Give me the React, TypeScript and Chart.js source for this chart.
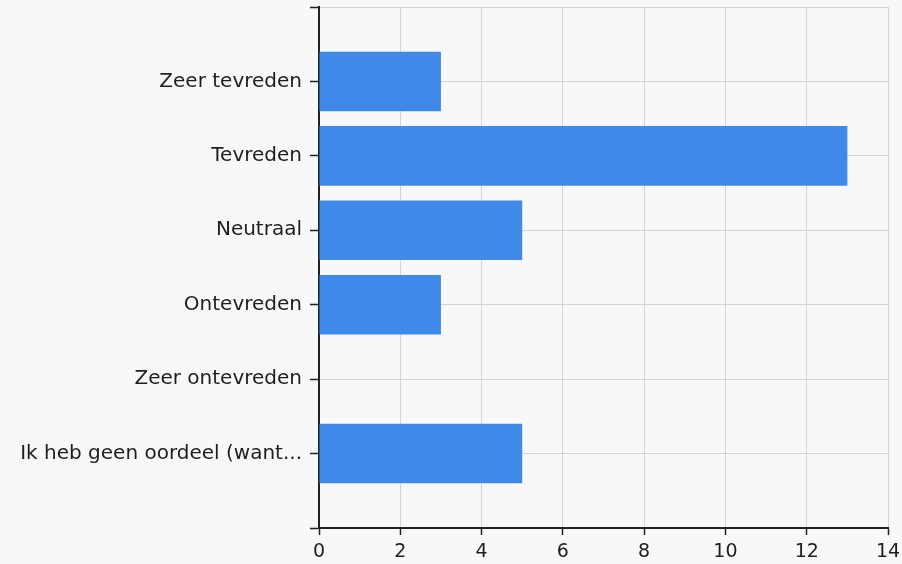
import React, { useEffect, useRef } from "react";
import { Chart, registerables } from "chart.js";

Chart.register(...registerables);

const categories = [
  "Zeer tevreden",
  "Tevreden",
  "Neutraal",
  "Ontevreden",
  "Zeer ontevreden",
  "Ik heb geen oordeel (want...",
];
const values = [3, 13, 5, 3, 0, 5];
const xTicks = [0, 2, 4, 6, 8, 10, 12, 14];

export default function App() {
  const ref = useRef<HTMLCanvasElement>(null);
  useEffect(() => {
    document.body.style.margin = "0";
    document.body.style.background = "#f8f8f8";
    const labels = ["", ...categories, ""];
    const data = [null, ...values, null];
    const chart = new Chart(ref.current!, {
      type: "bar",
      data: {
        labels,
        datasets: [
          {
            data,
            backgroundColor: "#3f8ae9",
            barPercentage: 0.8,
            categoryPercentage: 1,
          },
        ],
      },
      options: {
        indexAxis: "y",
        animation: false,
        responsive: false,
        layout: { padding: { top: 7, right: 14, left: 0, bottom: 0 } },
        plugins: { legend: { display: false }, tooltip: { enabled: false } },
        scales: {
          x: {
            min: 0,
            max: 14,
            afterBuildTicks: (s: any) => {
              s.ticks = xTicks.map((v) => ({ value: v }));
            },
            afterFit: (s: any) => {
              s.height = 36;
              s.paddingLeft = 0;
              s.paddingRight = 0;
            },
            grid: { color: "#d4d4d4", tickColor: "#222", tickLength: 7, tickWidth: 1.5, lineWidth: 1 },
            border: { color: "#222", width: 2 },
            ticks: { color: "#1e1e1e", font: { family: "DejaVu Sans", size: 19 }, padding: 6, maxRotation: 0 },
          },
          y: {
            offset: false,
            afterFit: (s: any) => {
              s.width = 319;
              s.paddingTop = 0;
              s.paddingBottom = 0;
            },
            grid: { offset: false, color: "#d4d4d4", tickColor: "#222", tickLength: 9, tickWidth: 1.5, lineWidth: 1 },
            border: { color: "#222", width: 2 },
            ticks: { color: "#1e1e1e", font: { family: "DejaVu Sans", size: 20 }, padding: 8, autoSkip: false },
          },
        },
      },
    });
    return () => chart.destroy();
  }, []);
  return (
    <div style={{ position: "fixed", left: 0, top: 0, width: 902, height: 564, background: "#f8f8f8" }}>
      <canvas ref={ref} width={902} height={564} />
    </div>
  );
}
